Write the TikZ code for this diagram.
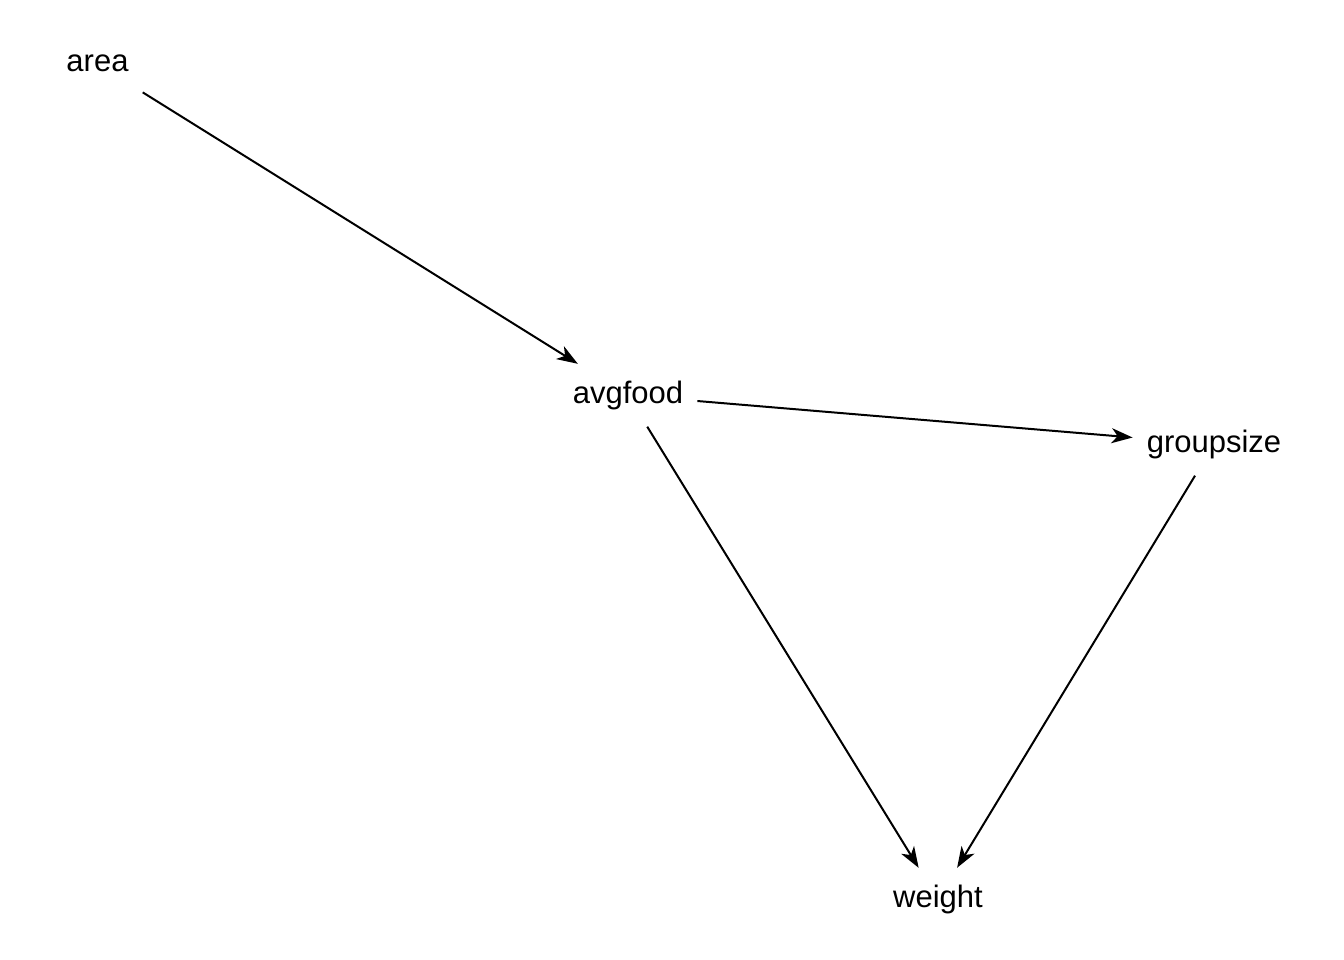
\documentclass[tikz,border=0pt]{standalone}
\usepackage{fontspec}
\setmainfont{Liberation Sans}
\usetikzlibrary{arrows.meta}
\begin{document}
\begin{tikzpicture}[x=1pt,y=-1pt,
  var/.style={anchor=base, font=\fontsize{31}{36}\selectfont, text height=22pt, text depth=6.5pt, inner xsep=14pt, inner ysep=17pt},
  edge/.style={line width=2pt, -{Stealth[length=21pt,width=15pt,inset=6pt]}}]
\useasboundingbox (0,0) rectangle (1344,960);
\node[var] (area) at (97.5,72) {area};
\node[var] (avgfood) at (628,403) {avgfood};
\node[var] (groupsize) at (1214,452) {groupsize};
\node[var] (weight) at (938,907) {weight};
\draw[edge] (area) -- (avgfood);
\draw[edge] (avgfood) -- (groupsize);
\draw[edge] (avgfood) -- (weight);
\draw[edge] (groupsize) -- (weight);
\end{tikzpicture}
\end{document}
